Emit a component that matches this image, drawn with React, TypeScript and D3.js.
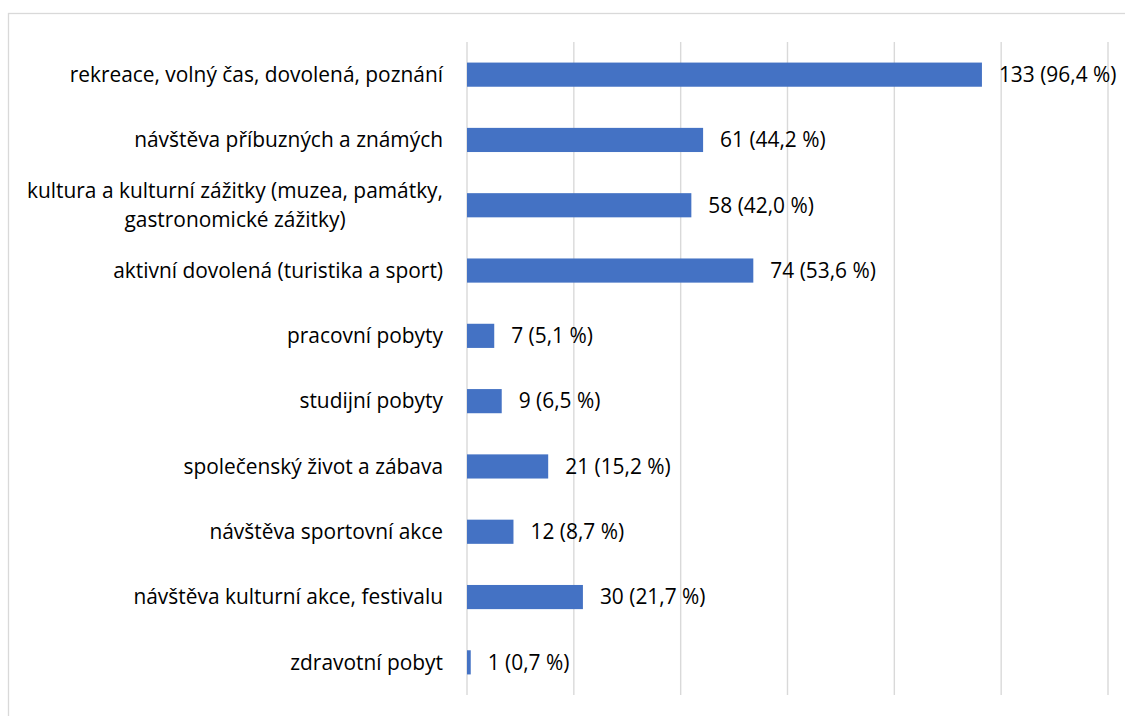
import React, { useEffect, useRef } from "react";
import * as d3 from "d3";

const categories = [
  "rekreace, volný čas, dovolená, poznání",
  "návštěva příbuzných a známých",
  "kultura a kulturní zážitky (muzea, památky,|gastronomické zážitky)",
  "aktivní dovolená (turistika a sport)",
  "pracovní pobyty",
  "studijní pobyty",
  "společenský život a zábava",
  "návštěva sportovní akce",
  "návštěva kulturní akce, festivalu",
  "zdravotní pobyt",
];
const counts = [133, 61, 58, 74, 7, 9, 21, 12, 30, 1];
const percents = [96.4, 44.2, 42.0, 53.6, 5.1, 6.5, 15.2, 8.7, 21.7, 0.7];
const xTicks = [0, 20, 40, 60, 80, 100, 120];

const W = 1125;
const H = 716;
const FONT = "'Open Sans', sans-serif";
const FS = 20.9;

const App: React.FC = () => {
  const svgRef = useRef<SVGSVGElement | null>(null);

  useEffect(() => {
    if (!svgRef.current) return;
    const svg = d3.select(svgRef.current);
    svg.selectAll("*").remove();

    const plot = { left: 467, right: 1108, top: 42, bottom: 695 };

    const x = d3.scaleLinear().domain([0, 120]).range([plot.left, plot.right]);
    const y = d3
      .scaleBand<number>()
      .domain(d3.range(categories.length))
      .range([plot.top, plot.bottom])
      .paddingInner(0.63)
      .paddingOuter(0.315);

    // chart frame
    svg
      .append("rect")
      .attr("x", 8.5)
      .attr("y", 13.5)
      .attr("width", W + 20)
      .attr("height", H + 20)
      .attr("fill", "#fff")
      .attr("stroke", "#d9d9d9")
      .attr("stroke-width", 1.3);

    // gridlines
    svg
      .append("g")
      .selectAll("line")
      .data(xTicks)
      .enter()
      .append("line")
      .attr("x1", (d) => x(d))
      .attr("x2", (d) => x(d))
      .attr("y1", plot.top)
      .attr("y2", plot.bottom)
      .attr("stroke", "#d9d9d9")
      .attr("stroke-width", 1.4);

    // bars
    svg
      .append("g")
      .selectAll("rect")
      .data(percents)
      .enter()
      .append("rect")
      .attr("x", x(0))
      .attr("y", (_, i) => y(i)!)
      .attr("width", (d) => x(d) - x(0))
      .attr("height", y.bandwidth())
      .attr("fill", "#4472c4");

    // value labels
    svg
      .append("g")
      .selectAll("text")
      .data(percents)
      .enter()
      .append("text")
      .attr("x", (d) => x(d) + 17)
      .attr("y", (_, i) => y(i)! + y.bandwidth() / 2)
      .attr("dy", "0.35em")
      .attr("font-family", FONT)
      .attr("font-size", FS)
      .attr("fill", "#000")
      .text(
        (d, i) => `${counts[i]} (${d.toFixed(1).replace(".", ",")} %)`
      );

    // category labels
    const labelX = plot.left - 24;
    categories.forEach((c, i) => {
      const lines = c.split("|");
      const cy = y(i)! + y.bandwidth() / 2;
      const lineH = 29;
      const t = svg
        .append("text")
        .attr("font-family", FONT)
        .attr("font-size", FS)
        .attr("fill", "#000");
      if (lines.length === 1) {
        t.attr("x", labelX)
          .attr("y", cy)
          .attr("dy", "0.35em")
          .attr("text-anchor", "end")
          .text(c);
      } else {
        // measure widest line, center others under it
        const tmp = svg
          .append("text")
          .attr("font-family", FONT)
          .attr("font-size", FS)
          .text(lines[0]);
        const wMax = (tmp.node() as SVGTextElement).getComputedTextLength();
        tmp.remove();
        const center = labelX - wMax / 2;
        lines.forEach((ln, k) => {
          t.append("tspan")
            .attr("x", center)
            .attr("y", cy + (k - (lines.length - 1) / 2) * lineH)
            .attr("dy", "0.35em")
            .attr("text-anchor", "middle")
            .text(ln);
        });
      }
    });
  }, []);

  return (
    <svg
      ref={svgRef}
      width={W}
      height={H}
      style={{ position: "absolute", left: 0, top: 0, background: "#fff" }}
    />
  );
};

export default App;
